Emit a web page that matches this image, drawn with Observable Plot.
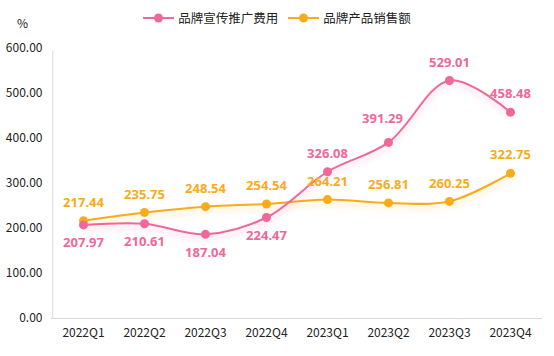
<!DOCTYPE html>
<html><head><meta charset="utf-8">
<script src="https://cdn.jsdelivr.net/npm/d3@7"></script>
<script src="https://cdn.jsdelivr.net/npm/@observablehq/plot@0.6"></script>
<style>
body{margin:0;background:#fff;font-family:"Noto Sans CJK SC","Noto Sans",sans-serif;}
#wrap{position:relative;width:554px;height:356px;}
#legend{position:absolute;top:8px;left:0;width:554px;display:flex;justify-content:center;gap:10px;font-size:12.5px;color:#222;}
#legend .item{display:flex;align-items:center;gap:4px;}
#unit{position:absolute;left:17px;top:14px;font-size:12px;color:#222;}
</style></head>
<body><div id="wrap"><div id="legend"></div><div id="unit">%</div><div id="chart"></div></div>
<script>
const quarters = ["2022Q1","2022Q2","2022Q3","2022Q4","2023Q1","2023Q2","2023Q3","2023Q4"];
const seriesNames = ["品牌宣传推广费用","品牌产品销售额"];
const promo = [207.97,210.61,187.04,224.47,326.08,391.29,529.01,458.48];
const sales = [217.44,235.75,248.54,254.54,264.21,256.81,260.25,322.75];
const yTicks = [0,100,200,300,400,500,600];
const colors = ["#f0679a","#fbab18"];

const promoRows = quarters.map((q,i)=>({q, v: promo[i], i}));
const salesRows = quarters.map((q,i)=>({q, v: sales[i], i}));

const legend = document.getElementById("legend");
seriesNames.forEach((n,k)=>{
  const it = document.createElement("div"); it.className="item";
  it.innerHTML = `<svg width="31" height="12"><line x1="0" x2="31" y1="6" y2="6" stroke="${colors[k]}" stroke-width="2"/><circle cx="15.5" cy="6" r="4.5" fill="${colors[k]}"/></svg><span>${n}</span>`;
  legend.appendChild(it);
});

const fmt = d3.format(".2f");
const labelFont = '"Noto Sans","DejaVu Sans",sans-serif';
const lbl = (extra) => Object.assign({x: "q", y: "v", text: d=>fmt(d.v), fontWeight: "bold", fontSize: 13, fontFamily: labelFont}, extra);
const chart = Plot.plot({
  width: 554, height: 356,
  marginLeft: 51, marginRight: 12, marginTop: 48, marginBottom: 38,
  style: {fontFamily: '"Noto Sans CJK SC","Noto Sans",sans-serif', fontSize: "12px", color: "#222", background: "#fff"},
  x: {type: "point", domain: quarters, padding: 0.5, label: null},
  y: {domain: [0,600], ticks: yTicks, tickFormat: fmt, label: null},
  marks: [
    Plot.axisY({ticks: yTicks, tickFormat: fmt, tickSize: 0, tickPadding: 9, label: null, fontSize: 12, fill: "#222"}),
    Plot.axisX({tickSize: 0, tickPadding: 10, label: null, fontSize: 12, fill: "#222"}),
    Plot.ruleX([quarters[0]], {stroke: "#d9d9d9", strokeWidth: 1, dx: -30.7, y1: 0, y2: 595}),
    Plot.ruleY([0], {stroke: "#d9d9d9", strokeWidth: 1}),
    Plot.line(salesRows, {x: "q", y: "v", stroke: colors[1], strokeWidth: 2, curve: "catmull-rom"}),
    Plot.line(promoRows, {x: "q", y: "v", stroke: colors[0], strokeWidth: 2, curve: "catmull-rom"}),
    Plot.dot(salesRows, {x: "q", y: "v", r: 4.5, fill: colors[1]}),
    Plot.dot(promoRows, {x: "q", y: "v", r: 4.5, fill: colors[0]}),
    Plot.text(salesRows, lbl({dy: -18, fill: colors[1]})),
    Plot.text(promoRows.filter(d=>d.i<4), lbl({dy: 18, fill: colors[0]})),
    Plot.text(promoRows.filter(d=>d.i>=4 && d.i!==5), lbl({dy: -18, fill: colors[0]})),
    Plot.text(promoRows.filter(d=>d.i===5), lbl({dy: -24, dx: -6, fill: colors[0]}))
  ]
});
d3.select(chart).selectAll('g[aria-label="line"]').each(function(){
  const stroke = d3.select(this).attr("stroke") || d3.select(this).select("path").attr("stroke");
  const c = d3.color(stroke); c.opacity = 0.35;
  d3.select(this).style("filter", `drop-shadow(0px 4px 3px ${c.formatRgb()})`);
});
document.getElementById("chart").appendChild(chart);
</script></body></html>
